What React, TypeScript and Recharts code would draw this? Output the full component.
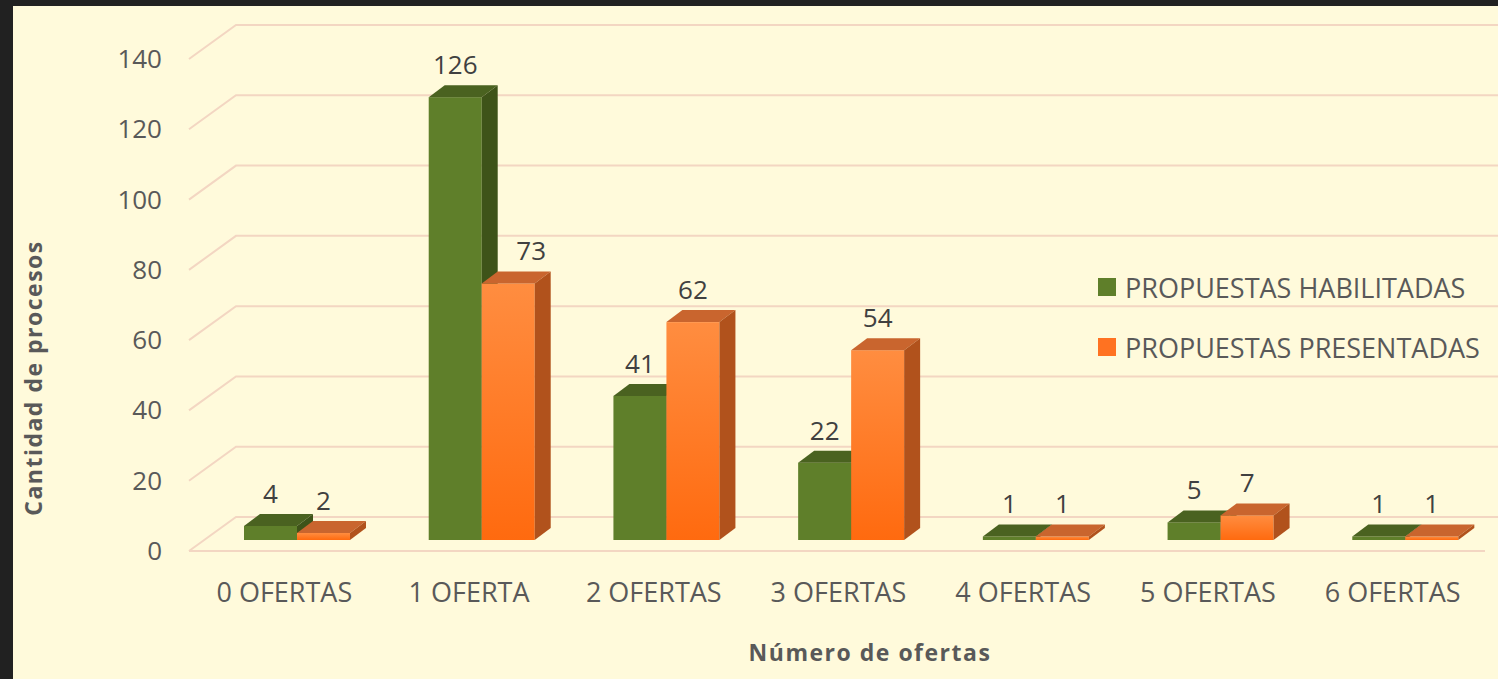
import React from 'react';
import { BarChart, Bar, XAxis, YAxis, CartesianGrid, Legend, LabelList } from 'recharts';

// data
const categories = ['0 OFERTAS', '1 OFERTA', '2 OFERTAS', '3 OFERTAS', '4 OFERTAS', '5 OFERTAS', '6 OFERTAS'];
const habilitadas = [4, 126, 41, 22, 1, 5, 1];
const presentadas = [2, 73, 62, 54, 1, 7, 1];
const yTicks = [0, 20, 40, 60, 80, 100, 120, 140];

const data = categories.map((name, i) => ({
  name,
  habilitadas: habilitadas[i],
  presentadas: presentadas[i],
}));

/* layout */
const W = 1498;
const H = 679;
const MARGIN = { top: 48, right: 0, bottom: 79, left: 100 };
const X_AXIS_H = 60;
const Y_AXIS_W = 105;
const PLOT_BOTTOM = H - MARGIN.bottom - X_AXIS_H;

// fake 3d: bars sit a third of the way into the floor
const BAR_DX = 16;
const BAR_DY = -12;
const FRONT_DX = -16;
const FRONT_DY = 11;
const BACK_DX = 31;
const BACK_DY = -23;

const FONT = "'Open Sans', sans-serif";
const GRID = '#F3D6C2';
const TEXT = '#595959';

const GREEN = { front: '#5F7F2A', top: '#4A6220', side: '#3E5319' };
const ORANGE = { front: '#FF7A24', top: '#C9652E', side: '#B1521C' };

const gridLine = (props: any) => {
  const x1 = Number(props.x1);
  const x2 = Number(props.x2);
  const y = Number(props.y1);
  const isFloor = Math.abs(y - PLOT_BOTTOM) < 1;
  return (
    <g key={`grid-${y}`}>
      <path
        d={`M${x1 + FRONT_DX},${y + FRONT_DY}L${x1 + BACK_DX},${y + BACK_DY}L${W},${y + BACK_DY}`}
        stroke={GRID}
        strokeWidth={2}
        fill="none"
      />
      {isFloor && (
        <path
          d={`M${x1 + FRONT_DX},${y + FRONT_DY}L${x2 - 13},${y + FRONT_DY}`}
          stroke={GRID}
          strokeWidth={2}
          fill="none"
        />
      )}
    </g>
  );
};

const make3DBar = (c: { front: string; top: string; side: string }, gradient?: [string, string]) =>
  (props: any) => {
    const { x, y, width, height, index } = props;
    if (!width || height == null) return null;
    const gid = `grad-${index}`;
    return (
      <g>
        {gradient && (
          <defs>
            <linearGradient id={gid} x1="0" y1="0" x2="0" y2="1">
              <stop offset="0%" stopColor={gradient[0]} />
              <stop offset="100%" stopColor={gradient[1]} />
            </linearGradient>
          </defs>
        )}
        <rect x={x} y={y} width={width} height={height} fill={gradient ? `url(#${gid})` : c.front} />
        <polygon
          points={`${x},${y} ${x + BAR_DX},${y + BAR_DY} ${x + width + BAR_DX},${y + BAR_DY} ${x + width},${y}`}
          fill={c.top}
        />
        <polygon
          points={`${x + width},${y} ${x + width + BAR_DX},${y + BAR_DY} ${x + width + BAR_DX},${y + height + BAR_DY} ${x + width},${y + height}`}
          fill={c.side}
        />
      </g>
    );
  };

const GreenBar = make3DBar(GREEN);
const OrangeBar = make3DBar(ORANGE, ['#FF8D40', '#FF6A0F']);

const valueLabel = (shiftWhenCovered: boolean) => (props: any) => {
  const { x, y, width, value, index } = props;
  // the 73 label gets nudged right in the original so it clears the taller green bar
  const covered = shiftWhenCovered && habilitadas[index] - presentadas[index] > 10;
  return (
    <text
      x={Number(x) + Number(width) / 2 + (covered ? 23 : 0)}
      y={Number(y) - 23}
      textAnchor="middle"
      fontFamily={FONT}
      fontSize={26}
      fill="#404040"
    >
      {value}
    </text>
  );
};

const XTick = (props: any) => (
  <text x={props.x - 13} y={PLOT_BOTTOM + 62} textAnchor="middle" fontFamily={FONT} fontSize={27} fill={TEXT}>
    {props.payload.value}
  </text>
);

const YTick = (props: any) => (
  <text x={162} y={props.y + 20} textAnchor="end" fontFamily={FONT} fontSize={26} fill={TEXT}>
    {props.payload.value}
  </text>
);

const xTitle = () => (
  <text x={870} y={661} textAnchor="middle" fontFamily={FONT} fontSize={23} fontWeight="bold" letterSpacing={1.5} fill={TEXT}>
    Número de ofertas
  </text>
);

const yTitle = () => (
  <text
    x={42}
    y={378}
    transform="rotate(-90 42 378)"
    textAnchor="middle"
    fontFamily={FONT}
    fontSize={23}
    fontWeight="bold"
    letterSpacing={1.5}
    fill={TEXT}
  >
    Cantidad de procesos
  </text>
);

const legendContent = (props: any) => (
  <div style={{ fontFamily: FONT, fontSize: 27, color: TEXT }}>
    {(props.payload || []).map((p: any) => (
      <div key={p.value} style={{ display: 'flex', alignItems: 'center', height: 60, whiteSpace: 'nowrap' }}>
        <span style={{ width: 18, height: 18, background: p.color, marginRight: 9, display: 'inline-block' }} />
        {p.value}
      </div>
    ))}
  </div>
);

export default function App() {
  return (
    <div style={{ position: 'fixed', left: 0, top: 0, width: W, height: H, background: '#212121' }}>
      <div style={{ position: 'absolute', left: 13, top: 6, right: 0, bottom: 0, background: '#FFFADB' }} />
      <div style={{ position: 'absolute', left: 0, top: 0 }}>
        <BarChart width={W} height={H} data={data} margin={MARGIN} barGap={0} barSize={53}>
          <CartesianGrid vertical={false} horizontal={gridLine} />
          <XAxis
            dataKey="name"
            height={X_AXIS_H}
            axisLine={false}
            tickLine={false}
            interval={0}
            tick={XTick}
            label={xTitle}
          />
          <YAxis
            width={Y_AXIS_W}
            domain={[0, 140]}
            ticks={yTicks}
            axisLine={false}
            tickLine={false}
            tick={YTick}
            label={yTitle}
          />
          <Legend
            layout="vertical"
            align="center"
            verticalAlign="middle"
            content={legendContent}
            wrapperStyle={{ position: 'absolute', left: 1098, top: 257, width: 400, height: 120 }}
          />
          <Bar dataKey="habilitadas" name="PROPUESTAS HABILITADAS" fill={GREEN.front} shape={GreenBar} isAnimationActive={false}>
            <LabelList dataKey="habilitadas" content={valueLabel(false)} />
          </Bar>
          <Bar dataKey="presentadas" name="PROPUESTAS PRESENTADAS" fill="#FF7221" shape={OrangeBar} isAnimationActive={false}>
            <LabelList dataKey="presentadas" content={valueLabel(true)} />
          </Bar>
        </BarChart>
      </div>
    </div>
  );
}
